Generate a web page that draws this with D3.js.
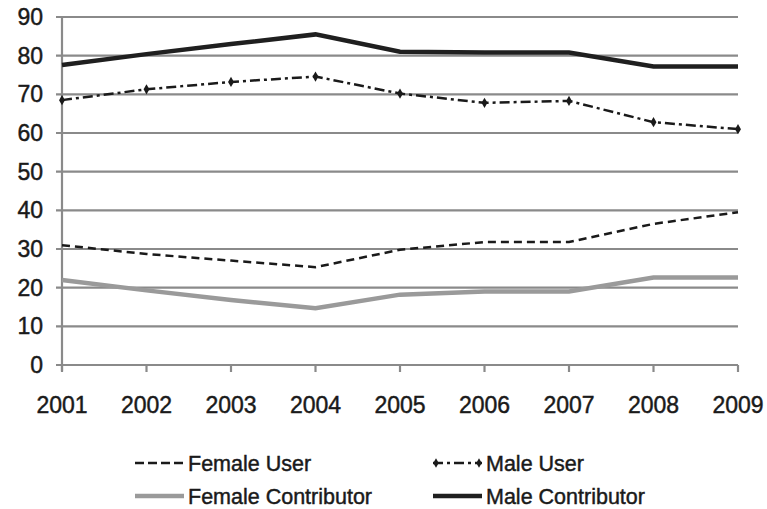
<!DOCTYPE html>
<html>
<head>
<meta charset="utf-8">
<script src="https://cdn.jsdelivr.net/npm/d3@7"></script>
<style>
  body { margin: 0; background: #fff; }
  text { font-family: "Liberation Sans", Arial, sans-serif; fill: #1a1a1a; stroke: #1a1a1a; stroke-width: 0.45; }
</style>
</head>
<body>
<svg id="chart" width="767" height="509"></svg>
<script>
// data
var years = [2001, 2002, 2003, 2004, 2005, 2006, 2007, 2008, 2009];
var yTicks = [0, 10, 20, 30, 40, 50, 60, 70, 80, 90];
var femaleUser = [31, 28.7, 27, 25.3, 29.8, 31.8, 31.8, 36.5, 39.5];
var maleUser = [68.5, 71.3, 73.2, 74.6, 70.2, 67.8, 68.3, 62.8, 61];
var femaleContributor = [22, 19.3, 16.8, 14.7, 18.2, 19, 19, 22.6, 22.6];
var maleContributor = [77.6, 80.4, 83, 85.5, 81, 80.8, 80.8, 77.2, 77.2];

var svg = d3.select("#chart");
var pLeft = 62, pRight = 738, pTop = 17, pBottom = 365;

var x = d3.scaleLinear().domain([2001, 2009]).range([pLeft, pRight]);
var y = d3.scaleLinear().domain([0, 90]).range([pBottom, pTop]);

// gridlines
svg.append("g").selectAll("line").data(yTicks).enter().append("line")
  .attr("x1", pLeft - 6).attr("x2", pRight)
  .attr("y1", d => y(d)).attr("y2", d => y(d))
  .attr("stroke", "#8a8a8a").attr("stroke-width", 2.2);

// y axis line
svg.append("line").attr("x1", pLeft).attr("x2", pLeft).attr("y1", pTop).attr("y2", pBottom + 6)
  .attr("stroke", "#8a8a8a").attr("stroke-width", 2.2);

// x tick marks
svg.append("g").selectAll("line").data(years).enter().append("line")
  .attr("x1", d => x(d)).attr("x2", d => x(d))
  .attr("y1", pBottom).attr("y2", pBottom + 7)
  .attr("stroke", "#8a8a8a").attr("stroke-width", 2.2);

// y labels
svg.append("g").selectAll("text").data(yTicks).enter().append("text")
  .attr("x", 43).attr("y", d => y(d) + 8)
  .attr("text-anchor", "end").attr("font-size", 23)
  .text(d => d);

// x labels
svg.append("g").selectAll("text").data(years).enter().append("text")
  .attr("x", d => x(d)).attr("y", 413)
  .attr("text-anchor", "middle").attr("font-size", 23)
  .text(d => d);

var line = d3.line().x((d, i) => x(years[i])).y(d => y(d));

var series = [
  { name: "Female Contributor", values: femaleContributor, color: "#9a9a9a", width: 4.5, dash: null },
  { name: "Female User", values: femaleUser, color: "#1a1a1a", width: 2.5, dash: "8,5" },
  { name: "Male User", values: maleUser, color: "#1a1a1a", width: 2.5, dash: "10,4,3,4" },
  { name: "Male Contributor", values: maleContributor, color: "#1f1f1f", width: 4.5, dash: null }
];

series.forEach(function (s) {
  svg.append("path").datum(s.values)
    .attr("d", line)
    .attr("fill", "none")
    .attr("stroke", s.color)
    .attr("stroke-width", s.width)
    .attr("stroke-dasharray", s.dash);
});

// small markers on male user
svg.append("g").selectAll("path").data(maleUser).enter().append("path")
  .attr("d", d3.symbol().type(d3.symbolDiamond).size(30))
  .attr("transform", (d, i) => "translate(" + x(years[i]) + "," + y(d) + ")")
  .attr("fill", "#1a1a1a");

// legend
var legend = [
  { name: "Female User", lx: 135, ly: 463, s: series[1] },
  { name: "Male User", lx: 433, ly: 463, s: series[2] },
  { name: "Female Contributor", lx: 135, ly: 496, s: series[0] },
  { name: "Male Contributor", lx: 433, ly: 496, s: series[3] }
];
legend.forEach(function (l) {
  svg.append("line")
    .attr("x1", l.lx).attr("x2", l.lx + 49)
    .attr("y1", l.ly).attr("y2", l.ly)
    .attr("stroke", l.s.color).attr("stroke-width", l.s.width)
    .attr("stroke-dasharray", l.name == "Female User" ? "9,4" : l.s.dash);
  if (l.name == "Male User") {
    svg.append("path").attr("d", d3.symbol().type(d3.symbolDiamond).size(25))
      .attr("transform", "translate(" + (l.lx + 3) + "," + l.ly + ")").attr("fill", "#1a1a1a");
    svg.append("path").attr("d", d3.symbol().type(d3.symbolDiamond).size(25))
      .attr("transform", "translate(" + (l.lx + 46) + "," + l.ly + ")").attr("fill", "#1a1a1a");
  }
  svg.append("text")
    .attr("x", l.lx + 53).attr("y", l.ly + 8)
    .attr("font-size", 21.5)
    .text(l.name);
});
</script>
</body>
</html>
